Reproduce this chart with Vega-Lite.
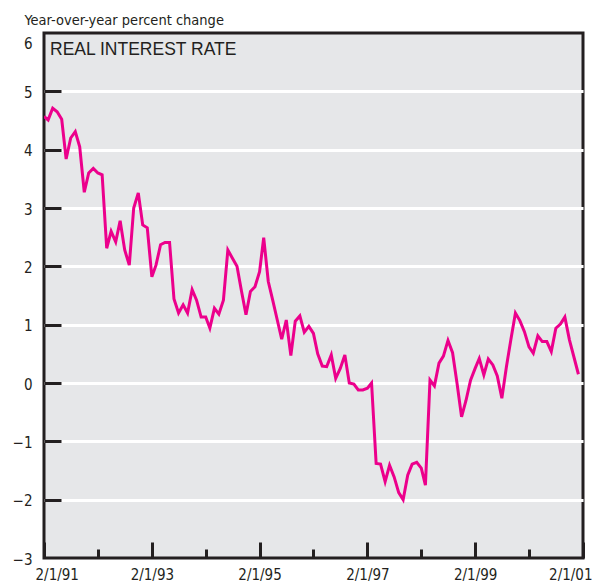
{
  "$schema": "https://vega.github.io/schema/vega-lite/v6.json",
  "width": 539,
  "height": 525,
  "autosize": {"type": "none"},
  "padding": {"left": 44, "top": 33, "right": 20, "bottom": 27},
  "background": "white",
  "config": {
    "view": {"fill": "#e6e7e9", "stroke": "#231f20", "strokeWidth": 3},
    "font": "DejaVu Sans Condensed, sans-serif"
  },
  "resolve": {"axis": {"x": "independent", "y": "independent"}},
  "layer": [
    {
      "data": {
        "values": [
          {"date": "1991-02-01T00:00:00", "rate": 4.57}, {"date": "1991-03-01T00:00:00", "rate": 4.51},
          {"date": "1991-04-01T00:00:00", "rate": 4.71}, {"date": "1991-05-01T00:00:00", "rate": 4.65},
          {"date": "1991-06-01T00:00:00", "rate": 4.52}, {"date": "1991-07-01T00:00:00", "rate": 3.84},
          {"date": "1991-08-01T00:00:00", "rate": 4.2}, {"date": "1991-09-01T00:00:00", "rate": 4.31},
          {"date": "1991-10-01T00:00:00", "rate": 4.05}, {"date": "1991-11-01T00:00:00", "rate": 3.27},
          {"date": "1991-12-01T00:00:00", "rate": 3.6}, {"date": "1992-01-01T00:00:00", "rate": 3.68},
          {"date": "1992-02-01T00:00:00", "rate": 3.6}, {"date": "1992-03-01T00:00:00", "rate": 3.57},
          {"date": "1992-04-01T00:00:00", "rate": 2.31}, {"date": "1992-05-01T00:00:00", "rate": 2.6},
          {"date": "1992-06-01T00:00:00", "rate": 2.42}, {"date": "1992-07-01T00:00:00", "rate": 2.78},
          {"date": "1992-08-01T00:00:00", "rate": 2.28}, {"date": "1992-09-01T00:00:00", "rate": 2.02},
          {"date": "1992-10-01T00:00:00", "rate": 3.0}, {"date": "1992-11-01T00:00:00", "rate": 3.26},
          {"date": "1992-12-01T00:00:00", "rate": 2.71}, {"date": "1993-01-01T00:00:00", "rate": 2.66},
          {"date": "1993-02-01T00:00:00", "rate": 1.82}, {"date": "1993-03-01T00:00:00", "rate": 2.02},
          {"date": "1993-04-01T00:00:00", "rate": 2.37}, {"date": "1993-05-01T00:00:00", "rate": 2.41},
          {"date": "1993-06-01T00:00:00", "rate": 2.41}, {"date": "1993-07-01T00:00:00", "rate": 1.44},
          {"date": "1993-08-01T00:00:00", "rate": 1.2}, {"date": "1993-09-01T00:00:00", "rate": 1.34},
          {"date": "1993-10-01T00:00:00", "rate": 1.2}, {"date": "1993-11-01T00:00:00", "rate": 1.6},
          {"date": "1993-12-01T00:00:00", "rate": 1.42}, {"date": "1994-01-01T00:00:00", "rate": 1.13},
          {"date": "1994-02-01T00:00:00", "rate": 1.13}, {"date": "1994-03-01T00:00:00", "rate": 0.94},
          {"date": "1994-04-01T00:00:00", "rate": 1.28}, {"date": "1994-05-01T00:00:00", "rate": 1.18},
          {"date": "1994-06-01T00:00:00", "rate": 1.42}, {"date": "1994-07-01T00:00:00", "rate": 2.28},
          {"date": "1994-08-01T00:00:00", "rate": 2.14}, {"date": "1994-09-01T00:00:00", "rate": 2.0},
          {"date": "1994-10-01T00:00:00", "rate": 1.58}, {"date": "1994-11-01T00:00:00", "rate": 1.17},
          {"date": "1994-12-01T00:00:00", "rate": 1.57}, {"date": "1995-01-01T00:00:00", "rate": 1.65},
          {"date": "1995-02-01T00:00:00", "rate": 1.91}, {"date": "1995-03-01T00:00:00", "rate": 2.49},
          {"date": "1995-04-01T00:00:00", "rate": 1.74}, {"date": "1995-05-01T00:00:00", "rate": 1.42},
          {"date": "1995-06-01T00:00:00", "rate": 1.08}, {"date": "1995-07-01T00:00:00", "rate": 0.75},
          {"date": "1995-08-01T00:00:00", "rate": 1.08}, {"date": "1995-09-01T00:00:00", "rate": 0.47},
          {"date": "1995-10-01T00:00:00", "rate": 1.06}, {"date": "1995-11-01T00:00:00", "rate": 1.15},
          {"date": "1995-12-01T00:00:00", "rate": 0.87}, {"date": "1996-01-01T00:00:00", "rate": 0.97},
          {"date": "1996-02-01T00:00:00", "rate": 0.85}, {"date": "1996-03-01T00:00:00", "rate": 0.5},
          {"date": "1996-04-01T00:00:00", "rate": 0.29}, {"date": "1996-05-01T00:00:00", "rate": 0.28},
          {"date": "1996-06-01T00:00:00", "rate": 0.48}, {"date": "1996-07-01T00:00:00", "rate": 0.08},
          {"date": "1996-08-01T00:00:00", "rate": 0.25}, {"date": "1996-09-01T00:00:00", "rate": 0.48},
          {"date": "1996-10-01T00:00:00", "rate": 0.0}, {"date": "1996-11-01T00:00:00", "rate": -0.02},
          {"date": "1996-12-01T00:00:00", "rate": -0.12}, {"date": "1997-01-01T00:00:00", "rate": -0.12},
          {"date": "1997-02-01T00:00:00", "rate": -0.09}, {"date": "1997-03-01T00:00:00", "rate": 0.0},
          {"date": "1997-04-01T00:00:00", "rate": -1.38}, {"date": "1997-05-01T00:00:00", "rate": -1.39},
          {"date": "1997-06-01T00:00:00", "rate": -1.69}, {"date": "1997-07-01T00:00:00", "rate": -1.41},
          {"date": "1997-08-01T00:00:00", "rate": -1.61}, {"date": "1997-09-01T00:00:00", "rate": -1.88},
          {"date": "1997-10-01T00:00:00", "rate": -2.0}, {"date": "1997-11-01T00:00:00", "rate": -1.58},
          {"date": "1997-12-01T00:00:00", "rate": -1.39}, {"date": "1998-01-01T00:00:00", "rate": -1.36},
          {"date": "1998-02-01T00:00:00", "rate": -1.46}, {"date": "1998-03-01T00:00:00", "rate": -1.75},
          {"date": "1998-04-01T00:00:00", "rate": 0.05}, {"date": "1998-05-01T00:00:00", "rate": -0.05},
          {"date": "1998-06-01T00:00:00", "rate": 0.34}, {"date": "1998-07-01T00:00:00", "rate": 0.46},
          {"date": "1998-08-01T00:00:00", "rate": 0.73}, {"date": "1998-09-01T00:00:00", "rate": 0.52},
          {"date": "1998-10-01T00:00:00", "rate": 0.0}, {"date": "1998-11-01T00:00:00", "rate": -0.58},
          {"date": "1998-12-01T00:00:00", "rate": -0.3}, {"date": "1999-01-01T00:00:00", "rate": 0.05},
          {"date": "1999-02-01T00:00:00", "rate": 0.25}, {"date": "1999-03-01T00:00:00", "rate": 0.42},
          {"date": "1999-04-01T00:00:00", "rate": 0.14}, {"date": "1999-05-01T00:00:00", "rate": 0.41},
          {"date": "1999-06-01T00:00:00", "rate": 0.31}, {"date": "1999-07-01T00:00:00", "rate": 0.12},
          {"date": "1999-08-01T00:00:00", "rate": -0.26}, {"date": "1999-09-01T00:00:00", "rate": 0.28},
          {"date": "1999-10-01T00:00:00", "rate": 0.74}, {"date": "1999-11-01T00:00:00", "rate": 1.2},
          {"date": "1999-12-01T00:00:00", "rate": 1.07}, {"date": "2000-01-01T00:00:00", "rate": 0.88},
          {"date": "2000-02-01T00:00:00", "rate": 0.62}, {"date": "2000-03-01T00:00:00", "rate": 0.51},
          {"date": "2000-04-01T00:00:00", "rate": 0.81}, {"date": "2000-05-01T00:00:00", "rate": 0.71},
          {"date": "2000-06-01T00:00:00", "rate": 0.71}, {"date": "2000-07-01T00:00:00", "rate": 0.54},
          {"date": "2000-08-01T00:00:00", "rate": 0.94}, {"date": "2000-09-01T00:00:00", "rate": 1.01},
          {"date": "2000-10-01T00:00:00", "rate": 1.13}, {"date": "2000-11-01T00:00:00", "rate": 0.74},
          {"date": "2000-12-01T00:00:00", "rate": 0.45}, {"date": "2001-01-01T00:00:00", "rate": 0.15}
        ]
      },
      "mark": {"type": "line", "color": "#ec008c", "strokeWidth": 3, "clip": true},
      "encoding": {
        "x": {
          "field": "date",
          "type": "temporal",
          "scale": {"domain": [{"year": 1991, "month": 2, "date": 1}, {"year": 2001, "month": 2, "date": 1}]},
          "axis": {
            "orient": "bottom",
            "values": [
              {"year": 1991, "month": 2, "date": 1}, {"year": 1993, "month": 2, "date": 1},
              {"year": 1995, "month": 2, "date": 1}, {"year": 1997, "month": 2, "date": 1},
              {"year": 1999, "month": 2, "date": 1}, {"year": 2001, "month": 2, "date": 1}
            ],
            "format": "%-m/%-d/%y",
            "title": null,
            "domain": false,
            "grid": false,
            "ticks": false,
            "labelFontSize": 15,
            "labelColor": "#231f20",
            "labelPadding": 9,
            "labelFlush": true,
            "labelFlushOffset": 9,
            "labelOverlap": false
          }
        },
        "y": {
          "field": "rate",
          "type": "quantitative",
          "scale": {"domain": [-3, 6], "nice": false, "zero": false},
          "axis": {
            "orient": "left",
            "values": [-3, -2, -1, 0, 1, 2, 3, 4, 5, 6],
            "title": "Year-over-year percent change",
            "titleAngle": 0,
            "titleAlign": "left",
            "titleBaseline": "alphabetic",
            "titleX": -20,
            "titleY": -9,
            "titleFontSize": 14.5,
            "titleFontWeight": "normal",
            "titleColor": "#231f20",
            "domain": false,
            "ticks": false,
            "grid": true,
            "gridColor": {"condition": {"test": "datum.value == 6 || datum.value == -3", "value": "transparent"}, "value": "white"},
            "gridWidth": 3,
            "labelFontSize": 15,
            "labelColor": "#231f20",
            "labelPadding": 12,
            "labelOffset": {"condition": {"test": "datum.value == 6", "value": 10}, "value": 1}
          }
        }
      }
    },
    {
      "data": {"values": [{"date": "1991-03-14T00:00:00", "rate": 5.62, "label": "REAL INTEREST RATE"}]},
      "mark": {"type": "text", "align": "left", "baseline": "alphabetic", "font": "Liberation Sans", "fontSize": 17.5, "color": "#231f20"},
      "encoding": {
        "text": {"field": "label"},
        "x": {
          "field": "date",
          "type": "temporal",
          "axis": {
            "orient": "bottom",
            "values": [
              {"year": 1991, "month": 2, "date": 1}, {"year": 1992, "month": 2, "date": 1},
              {"year": 1993, "month": 2, "date": 1}, {"year": 1994, "month": 2, "date": 1},
              {"year": 1995, "month": 2, "date": 1}, {"year": 1996, "month": 2, "date": 1},
              {"year": 1997, "month": 2, "date": 1}, {"year": 1998, "month": 2, "date": 1},
              {"year": 1999, "month": 2, "date": 1}, {"year": 2000, "month": 2, "date": 1},
              {"year": 2001, "month": 2, "date": 1}
            ],
            "title": null,
            "domain": false,
            "ticks": false,
            "labels": false,
            "zindex": 1,
            "grid": true,
            "gridColor": "#231f20",
            "gridWidth": 3,
            "gridDash": {"condition": {"test": "year(datum.value) % 2 == 1", "value": [0, 509, 16, 1000]}, "value": [0, 516, 9, 1000]}
          }
        },
        "y": {
          "field": "rate",
          "type": "quantitative",
          "axis": {
            "orient": "left",
            "offset": -17,
            "values": [-2, -1, 0, 1, 2, 3, 4, 5],
            "title": null,
            "domain": false,
            "labels": false,
            "grid": false,
            "ticks": true,
            "tickSize": 17,
            "tickWidth": 3,
            "tickColor": "#231f20",
            "zindex": 1
          }
        }
      }
    }
  ]
}
